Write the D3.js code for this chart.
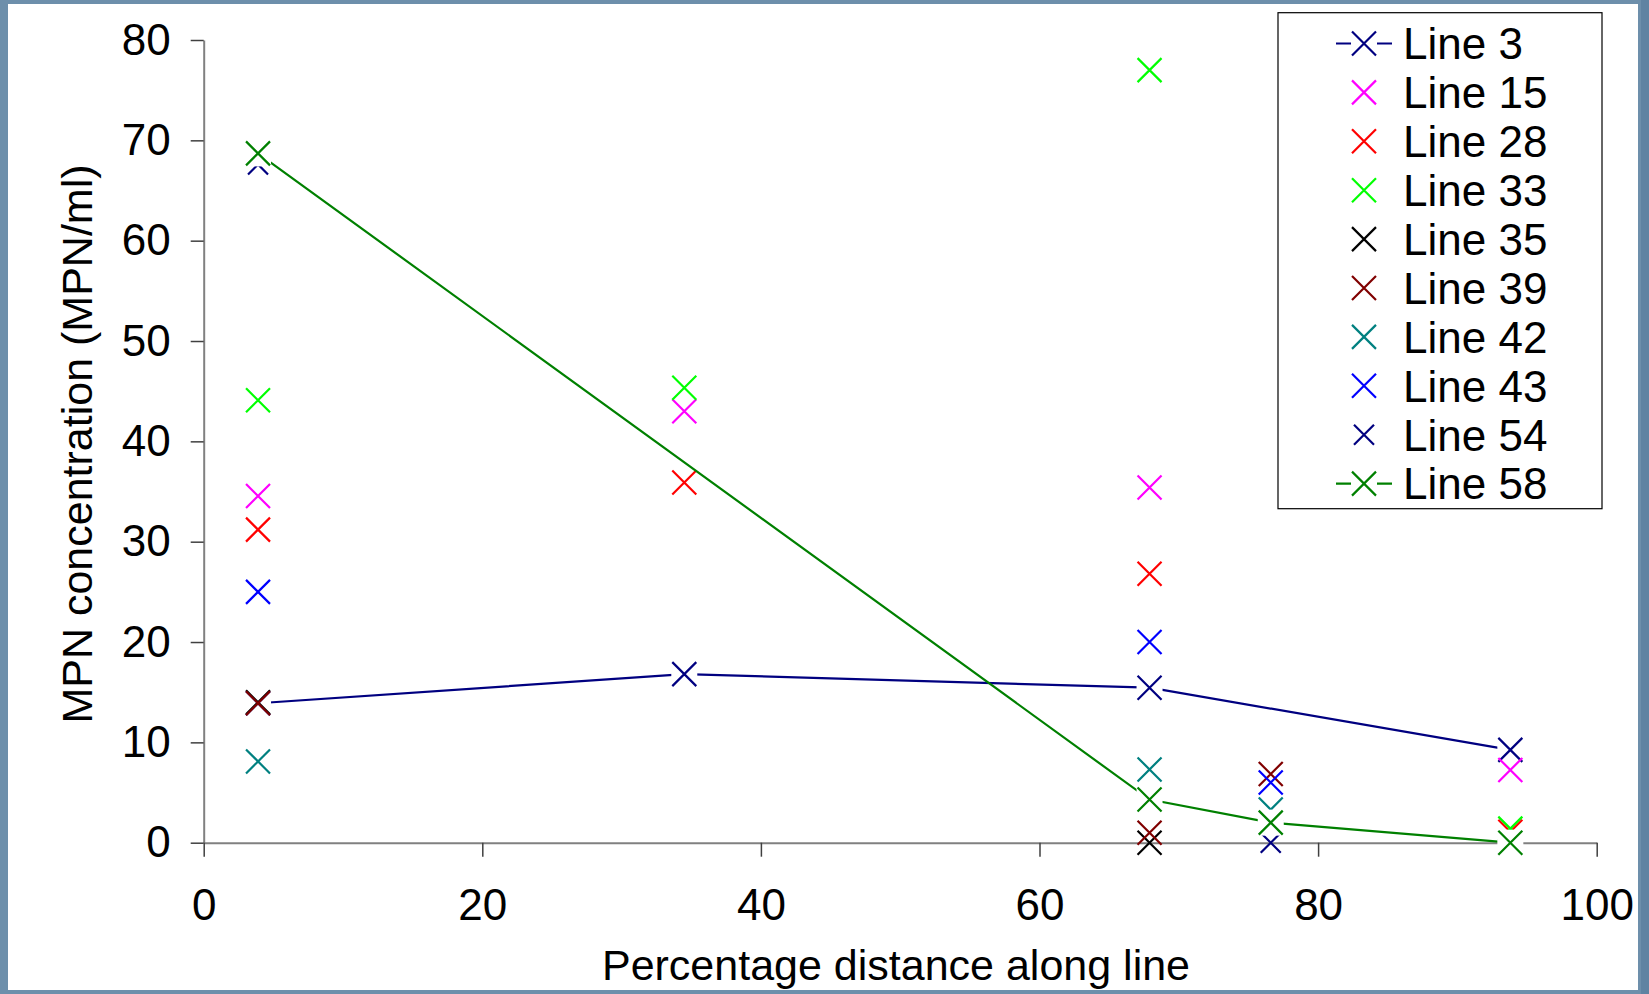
<!DOCTYPE html>
<html>
<head>
<meta charset="utf-8">
<script src="https://cdn.jsdelivr.net/npm/d3@7"></script>
<style>
  html, body { margin: 0; padding: 0; background: #6d8fab; }
  svg { display: block; }
  text { font-family: "Liberation Sans", Arial, sans-serif; fill: #000; }
</style>
</head>
<body>
<svg id="chart" width="1649" height="994"></svg>
<script>
// ---- data ----
const xPositions = [3.9, 34.5, 67.9, 76.6, 93.8];
const seriesNames = ["Line 3", "Line 15", "Line 28", "Line 33", "Line 35", "Line 39", "Line 42", "Line 43", "Line 54", "Line 58"];
const line3  = [13.9, 16.8, 15.45, null, 9.25];
const line15 = [34.55, 43.0, 35.4, null, 7.25];
const line28 = [31.2, 35.9, 26.8, null, 1.1];
const line33 = [44.1, 45.35, 77.0, null, 1.4];
const line35 = [14.0, null, 0.0, null, 0.0];
const line39 = [13.9, null, 1.0, 6.85, null];
const line42 = [8.1, null, 7.3, 3.3, null];
const line43 = [25.0, null, 20.0, 6.0, null];
const line54 = [67.6, null, null, 0.0, 0.2];
const line58 = [68.7, null, 4.3, 2.0, 0.0];
const seriesValues = [line3, line15, line28, line33, line35, line39, line42, line43, line54, line58];
const seriesColors = ["#000080", "#FF00FF", "#FF0000", "#00FF00", "#000000", "#800000", "#008080", "#0000FF", "#000080", "#008000"];
const seriesHasLine = [true, false, false, false, false, false, false, false, false, true];
const seriesSmallMarker = [false, false, false, false, false, false, false, false, true, false];
const xTicks = [0, 20, 40, 60, 80, 100];
const yTicks = [0, 10, 20, 30, 40, 50, 60, 70, 80];
const xTitle = "Percentage distance along line";
const yTitle = "MPN concentration (MPN/ml)";

// ---- layout ----
const svg = d3.select("#chart");
const W = 1649, H = 994;
const plot = { left: 203.7, right: 1596.7, top: 40, bottom: 842.7 };

// background frame
svg.append("rect").attr("x", 0).attr("y", 0).attr("width", W).attr("height", H).attr("fill", "#6d8fab");
svg.append("rect").attr("x", 1641).attr("y", 0).attr("width", 8).attr("height", H).attr("fill", "#5f83a2");
svg.append("rect").attr("x", 8).attr("y", 4).attr("width", 1630).attr("height", 986).attr("fill", "#ffffff");

const x = d3.scaleLinear().domain([0, 100]).range([plot.left, plot.right]);
const y = d3.scaleLinear().domain([0, 80]).range([plot.bottom, plot.top]);

const FONT = 44;
const TITLE_FONT = 43;

// y axis
const yAxis = svg.append("g").attr("transform", `translate(${plot.left},0)`)
  .call(d3.axisLeft(y).tickValues(yTicks).tickFormat(d3.format("d")).tickSize(13).tickSizeOuter(0).tickPadding(20));
// x axis
const xAxis = svg.append("g").attr("transform", `translate(0,${plot.bottom})`)
  .call(d3.axisBottom(x).tickValues(xTicks).tickFormat(d3.format("d")).tickSize(14).tickSizeOuter(0).tickPadding(32));

[yAxis, xAxis].forEach(g => {
  g.select(".domain").attr("stroke", "#808080").attr("stroke-width", 2);
  g.selectAll(".tick line").attr("stroke", "#404040").attr("stroke-width", 1.5);
  g.selectAll(".tick text").attr("font-size", FONT).attr("font-family", "Liberation Sans, Arial, sans-serif").attr("fill", "#000");
});

// axis titles
svg.append("text").attr("x", 896).attr("y", 980).attr("text-anchor", "middle")
  .attr("font-size", TITLE_FONT).text(xTitle);
svg.append("text").attr("transform", `translate(92,444) rotate(-90)`).attr("text-anchor", "middle")
  .attr("font-size", TITLE_FONT).text(yTitle);

// marker helper (white background only for series drawn with a line)
function drawMarker(g, cx, cy, color, half, withBg) {
  if (withBg) {
    const box = half + 1;
    g.append("rect").attr("x", cx - box).attr("y", cy - box).attr("width", box * 2).attr("height", box * 2).attr("fill", "#fff");
  }
  g.append("path")
    .attr("d", `M${cx - half},${cy - half}L${cx + half},${cy + half}M${cx - half},${cy + half}L${cx + half},${cy - half}`)
    .attr("stroke", color).attr("stroke-width", 2.2).attr("fill", "none");
}

// series
const lineGen = d3.line().x(d => x(d.x)).y(d => y(d.v));
seriesNames.forEach((name, i) => {
  const pts = xPositions.map((xv, j) => ({ x: xv, v: seriesValues[i][j] })).filter(d => d.v !== null);
  const g = svg.append("g").attr("class", "series");
  if (seriesHasLine[i]) {
    g.append("path").datum(pts).attr("d", lineGen).attr("fill", "none")
      .attr("stroke", seriesColors[i]).attr("stroke-width", 2.2);
  }
  const half = seriesSmallMarker[i] ? 10 : 12;
  pts.forEach(d => drawMarker(g, x(d.x), y(d.v), seriesColors[i], half, seriesHasLine[i]));
});

// legend
const leg = { x: 1278, y: 12.7, w: 324, h: 496, first: 43.5, step: 48.9, markX: 1364, textX: 1403 };
const lg = svg.append("g");
lg.append("rect").attr("x", leg.x).attr("y", leg.y).attr("width", leg.w).attr("height", leg.h)
  .attr("fill", "#fff").attr("stroke", "#000").attr("stroke-width", 1.2);
seriesNames.forEach((name, i) => {
  const cy = leg.first + i * leg.step;
  if (seriesHasLine[i]) {
    lg.append("line").attr("x1", leg.markX - 28).attr("x2", leg.markX + 28).attr("y1", cy).attr("y2", cy)
      .attr("stroke", seriesColors[i]).attr("stroke-width", 2.2);
  }
  drawMarker(lg, leg.markX, cy, seriesColors[i], seriesSmallMarker[i] ? 10 : 12, seriesHasLine[i]);
  lg.append("text").attr("x", leg.textX).attr("y", cy).attr("dy", "0.36em").attr("font-size", FONT).text(name);
});
</script>
</body>
</html>
